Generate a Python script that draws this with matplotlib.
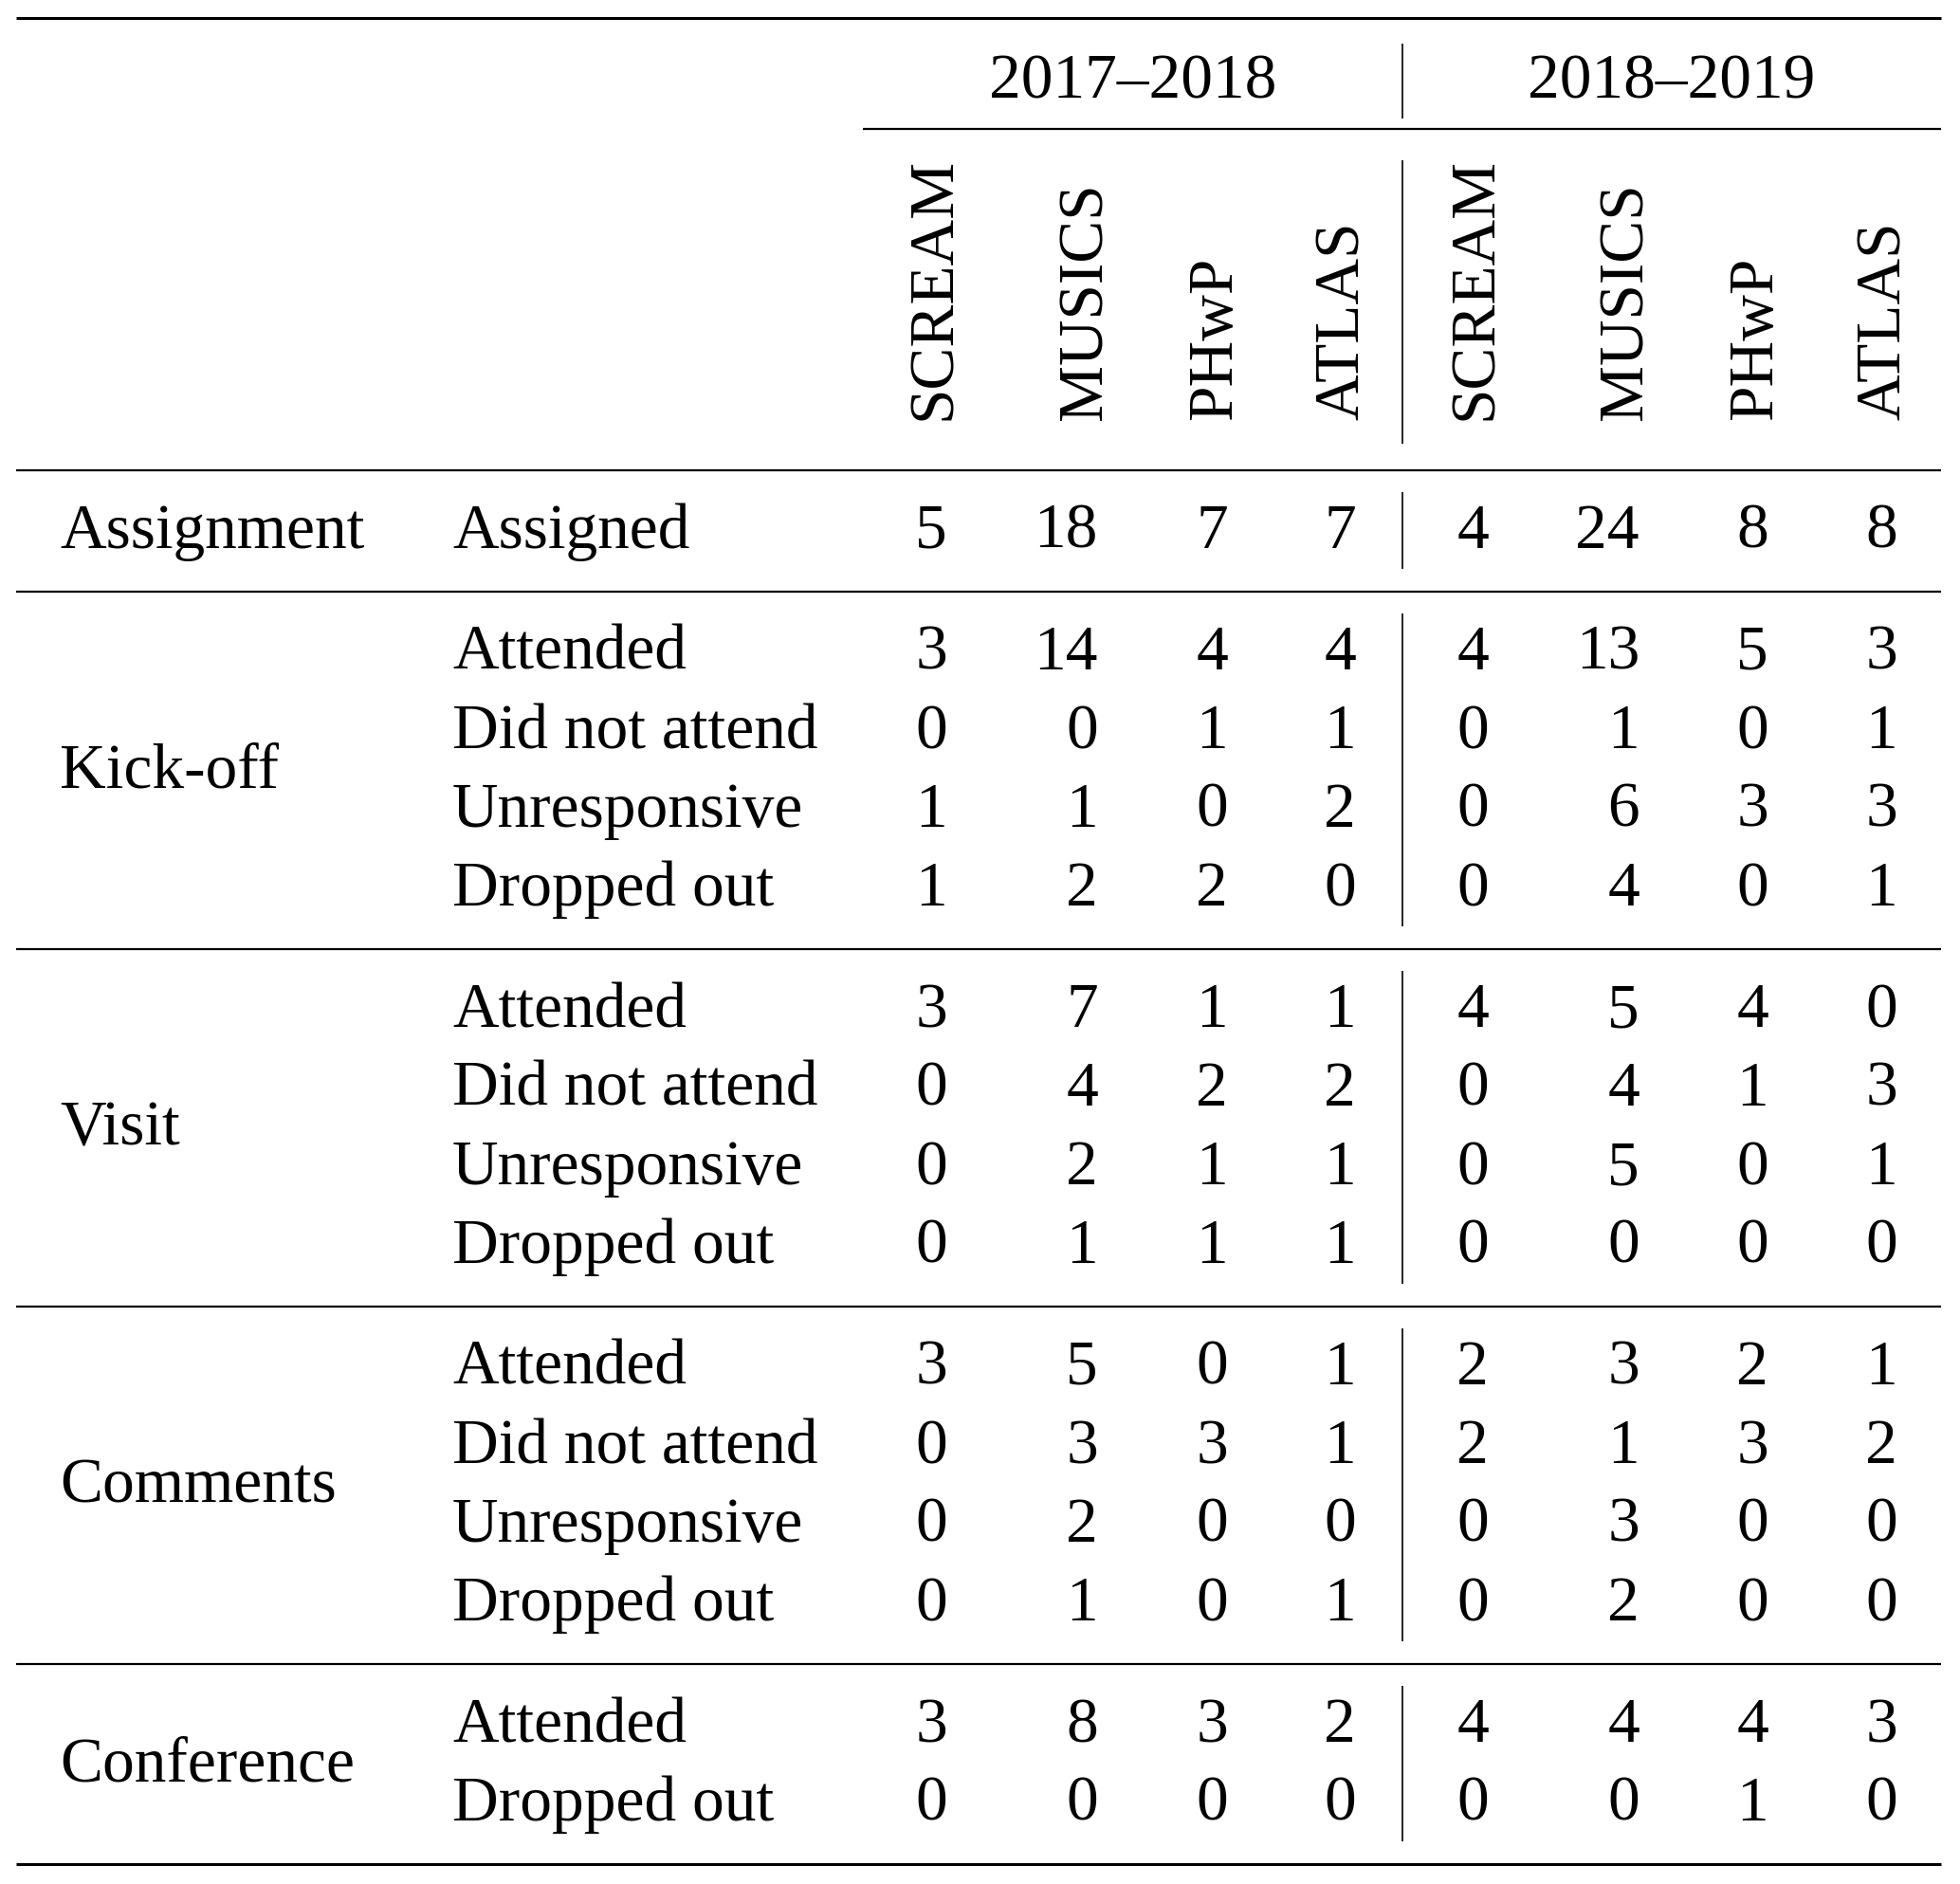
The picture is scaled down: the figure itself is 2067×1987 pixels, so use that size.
"""Participation table: assignment, kick-off, visit, comments and conference by programme and year."""

import matplotlib
matplotlib.use("Agg")
import matplotlib.pyplot as plt

# ── Data ─────────────────────────────────────────────────────────────────────
years = ["2017–2018", "2018–2019"]
programs = ["SCREAM", "MUSICS", "PHwP", "ATLAS"]

groups = ["Assignment", "Kick-off", "Visit", "Comments", "Conference"]
group_rows = [
    ["Assigned"],
    ["Attended", "Did not attend", "Unresponsive", "Dropped out"],
    ["Attended", "Did not attend", "Unresponsive", "Dropped out"],
    ["Attended", "Did not attend", "Unresponsive", "Dropped out"],
    ["Attended", "Dropped out"],
]

assignment = [[5, 18, 7, 7, 4, 24, 8, 8]]
kickoff = [
    [3, 14, 4, 4, 4, 13, 5, 3],
    [0, 0, 1, 1, 0, 1, 0, 1],
    [1, 1, 0, 2, 0, 6, 3, 3],
    [1, 2, 2, 0, 0, 4, 0, 1],
]
visit = [
    [3, 7, 1, 1, 4, 5, 4, 0],
    [0, 4, 2, 2, 0, 4, 1, 3],
    [0, 2, 1, 1, 0, 5, 0, 1],
    [0, 1, 1, 1, 0, 0, 0, 0],
]
comments = [
    [3, 5, 0, 1, 2, 3, 2, 1],
    [0, 3, 3, 1, 2, 1, 3, 2],
    [0, 2, 0, 0, 0, 3, 0, 0],
    [0, 1, 0, 1, 0, 2, 0, 0],
]
conference = [
    [3, 8, 3, 2, 4, 4, 4, 3],
    [0, 0, 0, 0, 0, 0, 1, 0],
]
group_values = [assignment, kickoff, visit, comments, conference]

# ── Layout (pixel space) ─────────────────────────────────────────────────────
W, H = 2067, 1987
FS = 48.5
FONT = ["Liberation Serif", "DejaVu Serif"]
col_right = [999, 1158, 1295, 1430, 1570, 1729, 1865, 2001]
x_group, x_status = 63, 477
x_left, x_right, x_mid, x_cmid = 17, 2047, 1479, 910
pitch, gap_before, gap_after = 83, 60, 68
base_off = 22          # baseline offset from digit centre

fig = plt.figure(figsize=(W / 100, H / 100), dpi=100)
ax = fig.add_axes([0, 0, 1, 1])
ax.set_xlim(0, W)
ax.set_ylim(H, 0)
ax.axis("off")


def hline(y, x0=x_left, x1=x_right, lw=1.6):
    ax.plot([x0, x1], [y, y], color="black", lw=lw, solid_capstyle="butt")


def vline(y0, y1, x=x_mid, lw=1.2):
    ax.plot([x, x], [y0, y1], color="black", lw=lw, solid_capstyle="butt")


def txt(x, y, s, **kw):
    ax.text(x, y, s, fontsize=FS, family=FONT, va="baseline", **kw)


# ── Header ───────────────────────────────────────────────────────────────────
hline(18.5, lw=2.2)
txt((x_cmid + x_mid) / 2, 104, years[0], ha="center")
txt((x_mid + x_right) / 2, 104, years[1], ha="center")
vline(46, 125)
hline(136, x0=x_cmid)
for j in range(8):
    ax.text(col_right[j] + 3, 443, programs[j % 4], fontsize=FS, family=FONT,
            rotation=90, rotation_mode="anchor", ha="left", va="baseline")
vline(169, 468)
hline(496)

# ── Body ─────────────────────────────────────────────────────────────────────
y = 496
for g, (name, rows, vals) in enumerate(zip(groups, group_rows, group_values)):
    y += gap_before
    ys = [y + i * pitch for i in range(len(rows))]
    txt(x_group, (ys[0] + ys[-1]) / 2 + base_off, name, ha="left")
    for yi, status, row in zip(ys, rows, vals):
        txt(x_status, yi + base_off, status, ha="left")
        for j, v in enumerate(row):
            txt(col_right[j], yi + base_off, str(v), ha="right")
    vline(ys[0] - 37, ys[-1] + 44)
    y = ys[-1] + gap_after
    hline(y, lw=2.2 if g == len(groups) - 1 else 1.6)

fig.savefig("out.png", dpi=100)
